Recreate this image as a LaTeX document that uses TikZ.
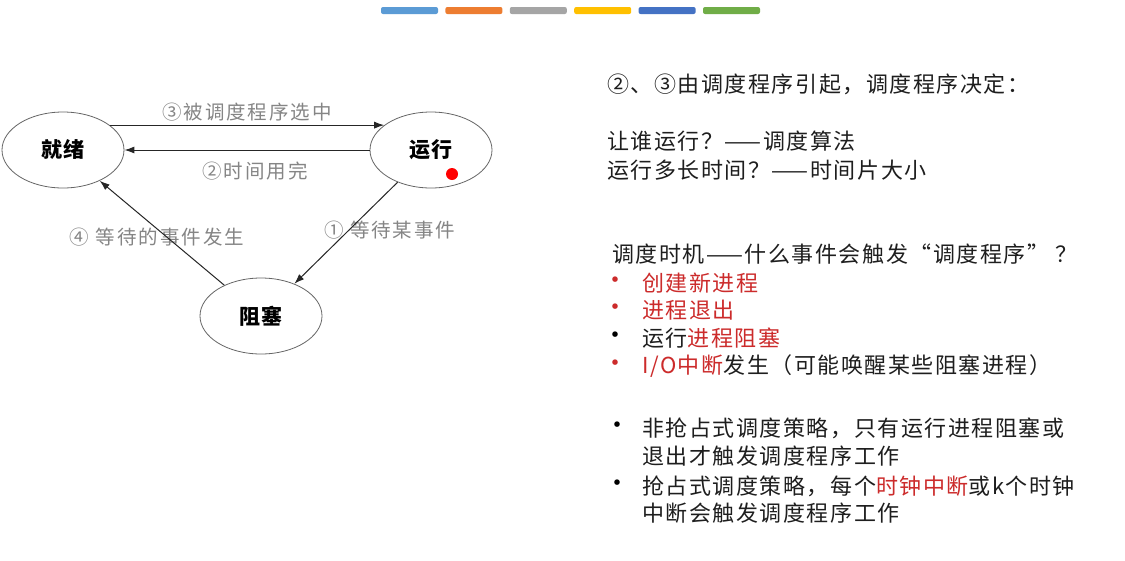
\documentclass[tikz,border=0pt]{standalone}
\usepackage{fontspec}
\setmainfont{Noto Sans CJK SC}
\newfontfamily\cjkdia[LetterSpace=10]{Noto Sans CJK SC}
\newfontfamily\cjkzust[LetterSpace=4]{Noto Sans CJK SC}
\newfontfamily\cjktxt[LetterSpace=7]{Noto Sans CJK SC}
\usetikzlibrary{arrows.meta, shapes.geometric, positioning}
\definecolor{barA}{HTML}{5B9BD5}
\definecolor{barB}{HTML}{ED7D31}
\definecolor{barC}{HTML}{A5A5A5}
\definecolor{barD}{HTML}{FFC000}
\definecolor{barE}{HTML}{4472C4}
\definecolor{barF}{HTML}{70AD47}
\definecolor{lblgray}{HTML}{858585}
\definecolor{txtdark}{HTML}{1E1E1E}
\definecolor{txtred}{HTML}{CC2B2B}
\tikzset{zustand/.style={ellipse, draw=gray!80!black, line width=0.8pt, minimum width=122pt, minimum height=76pt, inner sep=0pt, font=\cjkzust\fontsize{21}{21}\selectfont\bfseries},
uebergang/.style={-{Latex[length=10pt,width=7pt]}, line width=1pt, draw=black!85},
lbl/.style={text=lblgray, inner sep=1pt, font=\cjkdia\fontsize{19.5}{19.5}\selectfont},
zeile/.style={anchor=west, inner sep=0pt, text=txtdark, font=\cjktxt\fontsize{22}{22}\selectfont},
punkt/.style={inner sep=0pt, font=\fontsize{26}{26}\selectfont}}

\begin{document}
\begin{tikzpicture}[x=1pt, y=-1pt]
	\useasboundingbox[fill=white] (0,0) rectangle (1125,560);
	%Farbbalken
	\foreach \c [count=\i from 0] in {barA,barB,barC,barD,barE,barF} {
		\fill[\c, rounded corners=2pt] (381+\i*64.4,7) rectangle ++(57,7);
	}
	%Zustaende
	\node[zustand] (ready) at (63,150) {就绪};
	\node[zustand] (running) at (431,150) {运行};
	\node[zustand] (blocked) at (261,316) {阻塞};
	\fill[red] (452,174) circle (6pt);
	%Uebergaenge
	\draw[uebergang] (ready.28) -- node[lbl, above=2pt] (l3) {③被调度程序选中} (running.152);
	\draw[uebergang] (running.west) -- node[lbl, below=10pt, xshift=8pt] (l2) {②时间用完} (ready.east);
	\node[lbl, right=0pt] (l1) at (323,230) {① 等待某事件};
	\node[lbl] (l4) at (157,237) {④ 等待的事件发生};
	\draw[uebergang] (running.224) -- (blocked.44);
	\draw[uebergang] (blocked.140) -- (ready.320);
	%Text rechts
	\node[zeile] (t1) at (607,84) {②、③由调度程序引起，调度程序决定：};
	\node[zeile] (t2) at (607,141) {让谁运行？——调度算法};
	\node[zeile] (t3) at (607,170) {运行多长时间？——时间片大小};
	\node[zeile] (t4) at (612,254) {调度时机——什么事件会触发“调度程序” ？};
	%Aufzaehlung
	\node[zeile, text=txtred] (a1) at (642,283) {创建新进程};
	\node[zeile, text=txtred] (a2) at (642,310) {进程退出};
	\node[zeile] (a3) at (642,338) {运行\textcolor{txtred}{进程阻塞}};
	\node[zeile] (a4) at (642,366) {\textcolor{txtred}{I/O中断}发生（可能唤醒某些阻塞进程）};
	\node[punkt, text=txtred] (b1) at (615,283) {•};
	\node[punkt, text=txtred] (b2) at (615,310) {•};
	\node[punkt] (b3) at (615,338) {•};
	\node[punkt, text=txtred] (b4) at (615,366) {•};
	%Strategien
	\node[zeile] (s1) at (642,428) {非抢占式调度策略，只有运行进程阻塞或};
	\node[zeile] (s2) at (642,456) {退出才触发调度程序工作};
	\node[zeile] (s3) at (642,486) {抢占式调度策略，每个\textcolor{txtred}{时钟中断}或k个时钟};
	\node[zeile] (s4) at (642,513) {中断会触发调度程序工作};
	\node[punkt] (b5) at (617,428) {•};
	\node[punkt] (b6) at (617,486) {•};
\end{tikzpicture}
\end{document}
